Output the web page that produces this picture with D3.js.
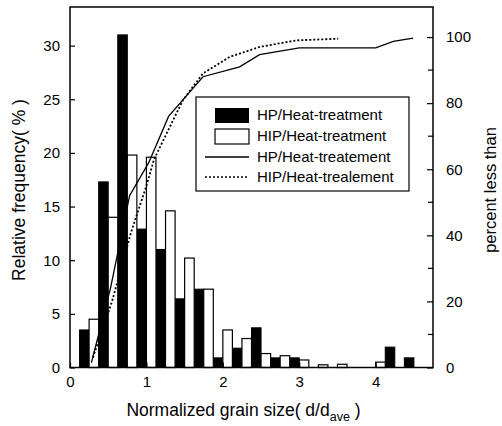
<!DOCTYPE html>
<html>
  <head>
    <script src="https://cdn.jsdelivr.net/npm/d3@7"></script>
    <style>
      html, body { margin: 0; padding: 0; background: #fff; overflow: hidden; }
      svg { display: block; font-family: "Liberation Sans", Arial, sans-serif; }
      .axis { font-family: "Liberation Sans", Arial, sans-serif; }
      .axis text { font-size: 15px; fill: #000; }
      .axis .domain { display: none; }
      .axis .tick line { stroke: #000; stroke-width: 1.2px; }
      .axis__label { font-size: 17.5px; fill: #000; text-anchor: middle; }
      .legend text { font-size: 15px; fill: #000; }
    </style>
  </head>
  <body>
    <svg width="502" height="426"></svg>
    <script>
      // bins are 0.25 wide, first starts at 0.125
      const binStart = [0.125, 0.375, 0.625, 0.875, 1.125, 1.375, 1.625, 1.875, 2.125,
                        2.375, 2.625, 2.875, 3.125, 3.375, 3.625, 3.875, 4.125, 4.375];
      const hpFreq  = [3.5, 17.3, 31.0, 12.9, 11.0, 6.4, 7.3, 0.9, 1.8,
                       3.7, 0.9, 0.9, 0, 0, 0, 0, 1.9, 0.9];
      const hipFreq = [4.5, 14.0, 19.8, 19.6, 14.6, 10.2, 7.3, 3.5, 2.7,
                       1.3, 1.1, 0.7, 0.25, 0.3, 0, 0.5, 0, 0];

      // cumulative curves [size, percent]
      const hpCum = [[0.28, 1.5], [0.53, 24], [0.78, 52], [1.03, 62], [1.29, 76],
                     [1.74, 88], [2.22, 91], [2.48, 94.7], [3.0, 96.7], [4.0, 96.7],
                     [4.23, 98.7], [4.49, 99.7]];
      const hipCum = [[0.3, 3], [0.55, 20], [0.8, 41], [1.0, 55], [1.1, 63], [1.31, 73],
                      [1.48, 81], [1.74, 89], [2.09, 94], [2.48, 97], [2.96, 99],
                      [3.51, 99.5]];

      const xTicks = [0, 1, 2, 3, 4];
      const yTicks = [0, 5, 10, 15, 20, 25, 30];
      const y2Ticks = [0, 20, 40, 60, 80, 100];
      const y2Minor = [10, 30, 50, 70, 90];
      const legendLabels = ["HP/Heat-treatment", "HIP/Heat-treatment",
                            "HP/Heat-treatement", "HIP/Heat-trealement"];

      const binWidth = 0.25;
      const margin = {top: 7, right: 69, bottom: 58.5, left: 70};

      const svg = d3.select("svg");
      const width = +svg.attr("width");
      const height = +svg.attr("height");
      const innerWidth = width - margin.left - margin.right;
      const innerHeight = height - margin.top - margin.bottom;

      const xScale = d3.scaleLinear().domain([0, 4.75]).range([0, innerWidth]);
      const yScale = d3.scaleLinear().domain([0, 33.6]).range([innerHeight, 0]);
      const y2Scale = d3.scaleLinear().domain([0, 109.1]).range([innerHeight, 0]);

      const g = svg.append("g")
          .attr("transform", `translate(${margin.left}, ${margin.top})`);

      // bars
      const half = binWidth / 2;
      g.selectAll(".hp").data(binStart).enter().append("rect")
          .attr("class", "hp")
          .attr("x", d => xScale(d))
          .attr("width", xScale(half) - xScale(0))
          .attr("y", (d, i) => yScale(hpFreq[i]))
          .attr("height", (d, i) => yScale(0) - yScale(hpFreq[i]))
          .attr("fill", "#000")
          .attr("stroke", "#000")
          .attr("stroke-width", 1)
          .style("display", (d, i) => hpFreq[i] > 0 ? null : "none");

      g.selectAll(".hip").data(binStart).enter().append("rect")
          .attr("class", "hip")
          .attr("x", d => xScale(d + half))
          .attr("width", xScale(half) - xScale(0))
          .attr("y", (d, i) => yScale(hipFreq[i]))
          .attr("height", (d, i) => yScale(0) - yScale(hipFreq[i]))
          .attr("fill", "#fff")
          .attr("stroke", "#000")
          .attr("stroke-width", 1.2)
          .style("display", (d, i) => hipFreq[i] > 0 ? null : "none");

      // cumulative lines
      const line = d3.line()
          .x(d => xScale(d[0]))
          .y(d => y2Scale(d[1]));

      g.append("path")
          .datum(hpCum)
          .attr("d", line)
          .attr("fill", "none")
          .attr("stroke", "#000")
          .attr("stroke-width", 1.3);

      g.append("path")
          .datum(hipCum)
          .attr("d", line)
          .attr("fill", "none")
          .attr("stroke", "#000")
          .attr("stroke-width", 1.8)
          .attr("stroke-dasharray", "2,2");

      // axes (ticks point inward)
      g.append("g")
          .attr("class", "axis")
          .attr("transform", `translate(0, ${innerHeight})`)
          .call(d3.axisBottom(xScale).tickValues(xTicks).tickSizeInner(-5).tickSizeOuter(0)
            .tickPadding(9).tickFormat(d3.format("d")));

      g.append("g")
          .attr("class", "axis")
          .call(d3.axisLeft(yScale).tickValues(yTicks).tickSizeInner(-5).tickSizeOuter(0)
            .tickPadding(10));

      const y2AxisG = g.append("g")
          .attr("class", "axis")
          .attr("transform", `translate(${innerWidth}, 0)`);
      y2AxisG.call(d3.axisRight(y2Scale).tickValues(y2Ticks).tickSizeInner(-6).tickSizeOuter(0)
            .tickPadding(13));
      y2AxisG.selectAll(".minor").data(y2Minor).enter().append("line")
          .attr("class", "minor")
          .attr("x1", 0).attr("x2", -5)
          .attr("y1", d => y2Scale(d)).attr("y2", d => y2Scale(d))
          .attr("stroke", "#000").attr("stroke-width", 1.2);

      // frame
      g.append("rect")
          .attr("width", innerWidth)
          .attr("height", innerHeight)
          .attr("fill", "none")
          .attr("stroke", "#000")
          .attr("stroke-width", 1.5);

      // axis titles
      const xLabel = g.append("text")
          .attr("class", "axis__label")
          .attr("x", innerWidth / 2 - 8)
          .attr("y", innerHeight + 48);
      xLabel.append("tspan").text("Normalized grain size( d/d");
      xLabel.append("tspan").attr("dy", 5).style("font-size", "12.5px").text("ave");
      xLabel.append("tspan").attr("dy", -5).text(" )");

      g.append("text")
          .attr("class", "axis__label")
          .attr("transform", "rotate(-90)")
          .attr("x", -183)
          .attr("y", -45)
          .text("Relative frequency( % )");

      g.append("text")
          .attr("class", "axis__label")
          .attr("transform", "rotate(-90)")
          .attr("x", -183)
          .attr("y", innerWidth + 63)
          .style("font-size", "16.5px")
          .text("percent less than");

      // legend
      const legend = g.append("g")
          .attr("class", "legend")
          .attr("transform", "translate(126, 90)");
      legend.append("rect")
          .attr("width", 213)
          .attr("height", 94)
          .attr("fill", "#fff")
          .attr("stroke", "#000")
          .attr("stroke-width", 1.2);

      const rowY = [18, 39, 60, 80];
      legend.append("rect")
          .attr("x", 19).attr("y", rowY[0] - 7).attr("width", 34).attr("height", 15)
          .attr("fill", "#000");
      legend.append("rect")
          .attr("x", 19).attr("y", rowY[1] - 7).attr("width", 34).attr("height", 15)
          .attr("fill", "#fff").attr("stroke", "#000").attr("stroke-width", 1.2);
      legend.append("line")
          .attr("x1", 9).attr("x2", 53).attr("y1", rowY[2]).attr("y2", rowY[2])
          .attr("stroke", "#000").attr("stroke-width", 1.3);
      legend.append("line")
          .attr("x1", 9).attr("x2", 53).attr("y1", rowY[3]).attr("y2", rowY[3])
          .attr("stroke", "#000").attr("stroke-width", 1.5)
          .attr("stroke-dasharray", "2,2");

      legend.selectAll(".label").data(legendLabels).enter().append("text")
          .attr("class", "label")
          .attr("x", 61)
          .attr("y", (d, i) => rowY[i])
          .attr("dy", "0.35em")
          .text(d => d);
    </script>
  </body>
</html>
